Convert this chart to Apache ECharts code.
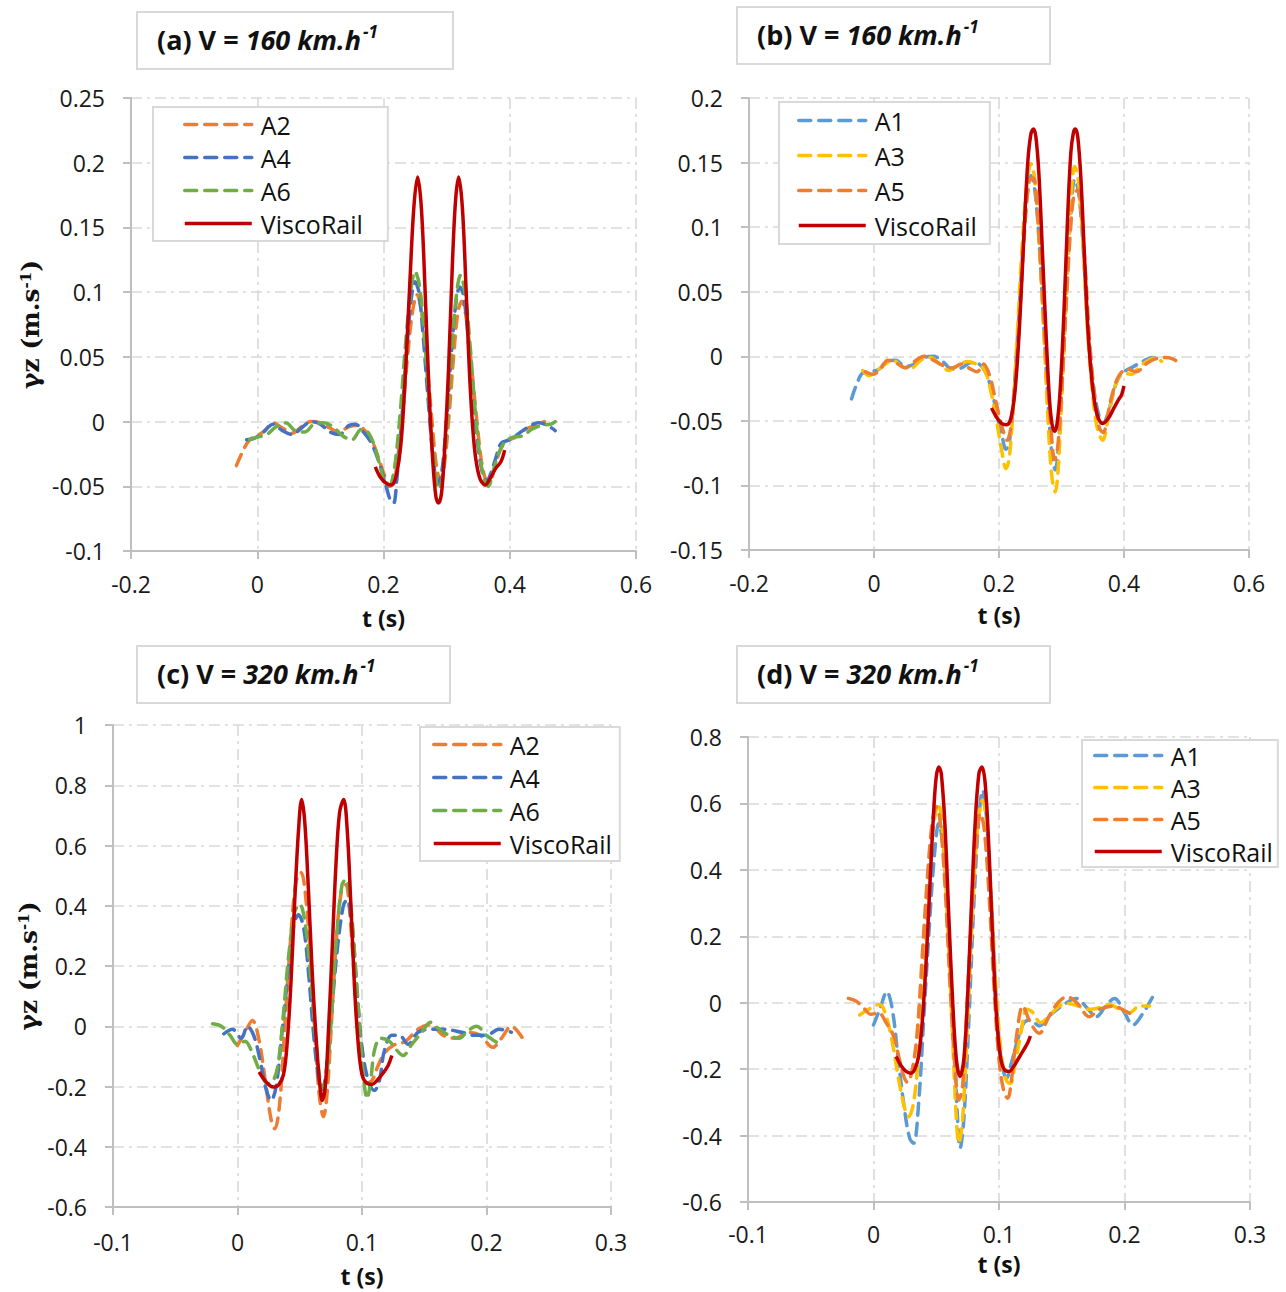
<!DOCTYPE html>
<html>
<head>
<meta charset="utf-8">
<script src="https://cdn.jsdelivr.net/npm/echarts@6/dist/echarts.min.js"></script>
<style>
html,body{margin:0;padding:0;background:#fff;}
#chart{width:1286px;height:1292px;}
</style>
</head>
<body>
<div id="chart"></div>
<script>
// ---------- tick values ----------
const xTicksAB = [-0.2, 0, 0.2, 0.4, 0.6];
const xTicksCD = [-0.1, 0, 0.1, 0.2, 0.3];
const yTicksA = [-0.1, -0.05, 0, 0.05, 0.1, 0.15, 0.2, 0.25];
const yTicksB = [-0.15, -0.1, -0.05, 0, 0.05, 0.1, 0.15, 0.2];
const yTicksC = [-0.6, -0.4, -0.2, 0, 0.2, 0.4, 0.6, 0.8, 1];
const yTicksD = [-0.6, -0.4, -0.2, 0, 0.2, 0.4, 0.6, 0.8];

const panelTitles = [
  ['(a) V = ', '160 km.h', '-1'],
  ['(b) V = ', '160 km.h', '-1'],
  ['(c) V = ', '320 km.h', '-1'],
  ['(d) V = ', '320 km.h', '-1']
];
const xName = 't (s)';
const yName = ['γz (m.s', '-1', ')'];

// ---------- panel (a) ----------
const aA2 = [[-0.033,-0.034],[-0.022,-0.022],[-0.012,-0.014],[0.000,-0.011],[0.012,-0.007],[0.025,-0.001],[0.040,-0.005],[0.055,-0.009],[0.070,-0.004],[0.085,0.000],[0.100,-0.001],[0.115,-0.005],[0.130,-0.008],[0.145,-0.004],[0.160,-0.003],[0.172,-0.008],[0.182,-0.015],[0.192,-0.028],[0.202,-0.042],[0.210,-0.050],[0.216,-0.048],[0.222,-0.030],[0.230,0.005],[0.238,0.050],[0.246,0.085],[0.253,0.098],[0.260,0.085],[0.268,0.050],[0.276,0.005],[0.284,-0.035],[0.290,-0.045],[0.296,-0.035],[0.303,0.000],[0.311,0.050],[0.318,0.085],[0.324,0.093],[0.331,0.080],[0.339,0.045],[0.347,0.005],[0.355,-0.030],[0.362,-0.045],[0.368,-0.047],[0.376,-0.035],[0.385,-0.022],[0.395,-0.015],[0.410,-0.012],[0.425,-0.006],[0.440,-0.003],[0.455,0.000]];
const aA4 = [[-0.017,-0.014],[-0.005,-0.013],[0.010,-0.008],[0.025,-0.002],[0.040,-0.007],[0.055,-0.010],[0.070,-0.005],[0.085,0.000],[0.100,-0.002],[0.115,-0.008],[0.130,-0.010],[0.145,-0.003],[0.155,-0.002],[0.168,-0.008],[0.180,-0.016],[0.192,-0.030],[0.203,-0.048],[0.211,-0.061],[0.216,-0.063],[0.221,-0.045],[0.228,-0.005],[0.236,0.050],[0.244,0.095],[0.250,0.108],[0.256,0.100],[0.263,0.065],[0.271,0.015],[0.279,-0.030],[0.286,-0.048],[0.292,-0.040],[0.299,-0.005],[0.307,0.050],[0.315,0.093],[0.321,0.104],[0.327,0.097],[0.334,0.065],[0.342,0.020],[0.350,-0.020],[0.357,-0.040],[0.363,-0.046],[0.370,-0.040],[0.378,-0.028],[0.386,-0.017],[0.400,-0.014],[0.415,-0.009],[0.430,-0.004],[0.445,-0.001],[0.460,-0.003],[0.472,-0.007]];
const aA6 = [[-0.012,-0.014],[0.000,-0.012],[0.015,-0.010],[0.030,-0.004],[0.045,-0.001],[0.060,-0.007],[0.075,-0.008],[0.090,-0.002],[0.105,-0.001],[0.120,-0.004],[0.135,-0.011],[0.150,-0.014],[0.165,-0.006],[0.175,-0.008],[0.185,-0.018],[0.195,-0.035],[0.205,-0.050],[0.212,-0.048],[0.219,-0.030],[0.227,0.010],[0.235,0.060],[0.243,0.100],[0.250,0.116],[0.257,0.105],[0.265,0.065],[0.273,0.010],[0.281,-0.035],[0.287,-0.052],[0.293,-0.045],[0.300,-0.005],[0.308,0.055],[0.316,0.100],[0.322,0.113],[0.329,0.100],[0.337,0.060],[0.345,0.010],[0.353,-0.028],[0.360,-0.045],[0.366,-0.050],[0.373,-0.040],[0.382,-0.025],[0.392,-0.016],[0.405,-0.012],[0.420,-0.011],[0.435,-0.006],[0.450,-0.003],[0.465,-0.002],[0.472,0.000]];
const aVisco = [[0.187,-0.035],[0.195,-0.043],[0.205,-0.048],[0.212,-0.049],[0.220,-0.042],[0.228,-0.015],[0.235,0.040],[0.242,0.110],[0.248,0.165],[0.254,0.189],[0.260,0.165],[0.266,0.100],[0.272,0.025],[0.278,-0.030],[0.283,-0.058],[0.287,-0.063],[0.292,-0.055],[0.297,-0.020],[0.303,0.040],[0.309,0.120],[0.314,0.170],[0.319,0.189],[0.325,0.165],[0.331,0.100],[0.337,0.030],[0.344,-0.020],[0.352,-0.043],[0.361,-0.049],[0.370,-0.043],[0.378,-0.036],[0.386,-0.031],[0.392,-0.022]];

// ---------- panel (b) ----------
const bA1 = [[-0.036,-0.033],[-0.028,-0.022],[-0.018,-0.013],[-0.005,-0.012],[0.008,-0.010],[0.020,-0.004],[0.035,-0.003],[0.050,-0.008],[0.065,-0.006],[0.080,-0.001],[0.095,0.000],[0.110,-0.004],[0.125,-0.010],[0.140,-0.009],[0.155,-0.005],[0.168,-0.006],[0.180,-0.014],[0.190,-0.030],[0.198,-0.048],[0.205,-0.062],[0.211,-0.072],[0.216,-0.068],[0.222,-0.040],[0.229,0.010],[0.237,0.075],[0.245,0.125],[0.251,0.140],[0.257,0.130],[0.264,0.090],[0.272,0.020],[0.279,-0.040],[0.285,-0.078],[0.290,-0.088],[0.295,-0.070],[0.301,-0.020],[0.308,0.050],[0.315,0.110],[0.321,0.137],[0.327,0.128],[0.334,0.090],[0.341,0.030],[0.349,-0.015],[0.357,-0.040],[0.366,-0.052],[0.374,-0.045],[0.382,-0.030],[0.390,-0.018],[0.400,-0.012],[0.415,-0.008],[0.430,-0.004],[0.445,-0.001],[0.456,-0.002]];
const bA3 = [[-0.018,-0.011],[-0.008,-0.015],[0.005,-0.011],[0.018,-0.006],[0.030,-0.003],[0.045,-0.008],[0.060,-0.009],[0.075,-0.003],[0.090,-0.001],[0.105,-0.006],[0.120,-0.011],[0.135,-0.007],[0.150,-0.004],[0.163,-0.006],[0.176,-0.010],[0.186,-0.025],[0.196,-0.050],[0.205,-0.075],[0.211,-0.087],[0.216,-0.080],[0.222,-0.045],[0.229,0.015],[0.237,0.085],[0.245,0.135],[0.251,0.149],[0.257,0.138],[0.264,0.090],[0.272,0.015],[0.279,-0.055],[0.285,-0.095],[0.290,-0.105],[0.295,-0.085],[0.301,-0.025],[0.308,0.050],[0.315,0.120],[0.321,0.147],[0.327,0.136],[0.334,0.090],[0.341,0.025],[0.349,-0.025],[0.357,-0.055],[0.366,-0.065],[0.374,-0.050],[0.382,-0.030],[0.390,-0.018],[0.400,-0.013],[0.412,-0.014],[0.425,-0.008],[0.440,-0.003],[0.452,-0.001],[0.460,-0.004]];
const bA5 = [[-0.014,-0.012],[-0.002,-0.014],[0.010,-0.010],[0.022,-0.003],[0.035,-0.005],[0.050,-0.009],[0.065,-0.004],[0.080,0.000],[0.095,-0.003],[0.110,-0.007],[0.125,-0.009],[0.140,-0.006],[0.155,-0.010],[0.165,-0.012],[0.175,-0.006],[0.185,-0.015],[0.195,-0.035],[0.205,-0.055],[0.213,-0.065],[0.219,-0.055],[0.226,-0.020],[0.234,0.040],[0.242,0.105],[0.249,0.137],[0.255,0.138],[0.261,0.115],[0.268,0.060],[0.276,-0.005],[0.283,-0.055],[0.289,-0.080],[0.294,-0.070],[0.300,-0.030],[0.307,0.035],[0.314,0.095],[0.320,0.125],[0.326,0.129],[0.332,0.110],[0.339,0.060],[0.346,0.005],[0.354,-0.035],[0.361,-0.056],[0.367,-0.059],[0.374,-0.045],[0.382,-0.028],[0.392,-0.015],[0.405,-0.010],[0.420,-0.012],[0.435,-0.006],[0.450,-0.002],[0.465,-0.001],[0.478,-0.002],[0.490,-0.006]];
const bVisco = [[0.188,-0.040],[0.196,-0.047],[0.204,-0.052],[0.212,-0.053],[0.219,-0.048],[0.226,-0.025],[0.233,0.025],[0.240,0.095],[0.246,0.150],[0.251,0.172],[0.255,0.176],[0.259,0.170],[0.264,0.140],[0.270,0.075],[0.276,0.010],[0.281,-0.035],[0.285,-0.053],[0.289,-0.058],[0.293,-0.052],[0.298,-0.025],[0.304,0.035],[0.310,0.110],[0.315,0.158],[0.319,0.173],[0.322,0.176],[0.326,0.170],[0.331,0.138],[0.337,0.075],[0.343,0.015],[0.350,-0.025],[0.357,-0.045],[0.366,-0.052],[0.375,-0.048],[0.384,-0.040],[0.392,-0.033],[0.396,-0.030],[0.400,-0.023]];

// ---------- panel (c) ----------
const cA2 = [[0.000,-0.064],[0.006,-0.020],[0.012,0.019],[0.017,-0.040],[0.022,-0.170],[0.027,-0.310],[0.030,-0.340],[0.034,-0.250],[0.038,0.000],[0.042,0.250],[0.047,0.480],[0.051,0.510],[0.055,0.420],[0.059,0.200],[0.063,-0.080],[0.066,-0.240],[0.069,-0.300],[0.072,-0.220],[0.076,0.050],[0.080,0.320],[0.084,0.460],[0.087,0.470],[0.091,0.330],[0.095,0.080],[0.099,-0.120],[0.103,-0.190],[0.108,-0.180],[0.113,-0.130],[0.118,-0.090],[0.125,-0.064],[0.135,-0.050],[0.145,-0.010],[0.155,0.005],[0.165,-0.030],[0.175,-0.040],[0.185,-0.020],[0.195,-0.030],[0.205,-0.070],[0.212,-0.040],[0.220,0.000],[0.229,-0.040]];
const cA4 = [[-0.011,-0.025],[-0.004,-0.010],[0.003,-0.040],[0.008,0.000],[0.013,-0.030],[0.018,-0.110],[0.023,-0.210],[0.027,-0.246],[0.031,-0.200],[0.035,-0.050],[0.040,0.150],[0.045,0.330],[0.049,0.370],[0.053,0.330],[0.057,0.180],[0.061,-0.020],[0.065,-0.170],[0.068,-0.210],[0.071,-0.160],[0.075,0.020],[0.080,0.250],[0.085,0.400],[0.088,0.420],[0.092,0.330],[0.096,0.120],[0.100,-0.070],[0.105,-0.180],[0.110,-0.213],[0.114,-0.180],[0.118,-0.080],[0.124,-0.030],[0.130,-0.030],[0.137,-0.060],[0.145,-0.020],[0.155,-0.010],[0.165,-0.010],[0.180,-0.020],[0.190,-0.030],[0.200,-0.030],[0.210,-0.010],[0.220,-0.020]];
const cA6 = [[-0.020,0.008],[-0.013,0.000],[-0.006,-0.030],[0.000,-0.060],[0.006,-0.050],[0.012,-0.090],[0.018,-0.150],[0.024,-0.190],[0.028,-0.185],[0.032,-0.140],[0.036,0.000],[0.041,0.230],[0.046,0.380],[0.050,0.405],[0.054,0.350],[0.058,0.200],[0.062,0.000],[0.066,-0.170],[0.069,-0.205],[0.072,-0.150],[0.076,0.070],[0.080,0.320],[0.084,0.470],[0.087,0.488],[0.091,0.400],[0.095,0.180],[0.099,-0.060],[0.102,-0.200],[0.104,-0.240],[0.107,-0.180],[0.110,-0.080],[0.115,-0.040],[0.122,-0.050],[0.128,-0.080],[0.133,-0.097],[0.140,-0.060],[0.148,-0.020],[0.155,0.013],[0.162,-0.010],[0.170,-0.030],[0.178,-0.040],[0.185,-0.015],[0.192,0.000],[0.200,-0.030],[0.208,-0.053]];
const cVisco = [[0.0173,-0.152],[0.022,-0.180],[0.026,-0.197],[0.029,-0.202],[0.033,-0.195],[0.037,-0.160],[0.040,-0.050],[0.043,0.150],[0.046,0.420],[0.049,0.650],[0.0515,0.753],[0.054,0.680],[0.057,0.450],[0.060,0.180],[0.063,-0.030],[0.066,-0.190],[0.068,-0.246],[0.0705,-0.200],[0.073,-0.020],[0.076,0.250],[0.079,0.530],[0.082,0.710],[0.0853,0.753],[0.088,0.660],[0.091,0.410],[0.094,0.130],[0.097,-0.060],[0.100,-0.160],[0.104,-0.190],[0.108,-0.193],[0.112,-0.180],[0.117,-0.155],[0.121,-0.130],[0.124,-0.097]];

// ---------- panel (d) ----------
const dA1 = [[0.000,-0.067],[0.005,-0.020],[0.0106,0.033],[0.015,-0.020],[0.020,-0.180],[0.025,-0.330],[0.029,-0.410],[0.032,-0.423],[0.036,-0.300],[0.040,-0.050],[0.044,0.200],[0.048,0.420],[0.052,0.540],[0.056,0.450],[0.060,0.200],[0.064,-0.100],[0.067,-0.350],[0.069,-0.438],[0.072,-0.350],[0.076,-0.050],[0.080,0.300],[0.084,0.560],[0.087,0.640],[0.090,0.560],[0.094,0.300],[0.098,0.000],[0.102,-0.180],[0.106,-0.227],[0.110,-0.180],[0.115,-0.110],[0.120,-0.060],[0.125,-0.052],[0.132,-0.070],[0.140,-0.040],[0.150,-0.010],[0.1616,0.013],[0.170,-0.015],[0.1775,-0.042],[0.185,-0.010],[0.192,0.013],[0.200,-0.030],[0.2066,-0.067],[0.215,-0.030],[0.224,0.028]];
const dA3 = [[-0.011,-0.037],[-0.004,-0.020],[0.005,-0.005],[0.010,-0.040],[0.015,-0.120],[0.020,-0.230],[0.025,-0.320],[0.028,-0.343],[0.032,-0.300],[0.036,-0.150],[0.040,0.100],[0.044,0.350],[0.048,0.540],[0.0517,0.600],[0.055,0.520],[0.059,0.250],[0.063,-0.100],[0.066,-0.350],[0.068,-0.423],[0.071,-0.350],[0.075,-0.050],[0.079,0.280],[0.083,0.530],[0.0869,0.610],[0.090,0.540],[0.094,0.300],[0.098,0.020],[0.102,-0.160],[0.106,-0.235],[0.109,-0.243],[0.113,-0.180],[0.118,-0.080],[0.122,-0.020],[0.127,-0.030],[0.133,-0.060],[0.140,-0.040],[0.148,-0.010],[0.155,-0.002],[0.163,-0.010],[0.172,-0.020],[0.180,-0.015],[0.188,-0.005],[0.196,-0.020],[0.204,-0.030],[0.212,-0.010],[0.220,-0.010]];
const dA5 = [[-0.020,0.013],[-0.014,0.005],[-0.008,-0.015],[-0.002,-0.035],[0.004,-0.030],[0.010,-0.060],[0.016,-0.100],[0.020,-0.160],[0.024,-0.220],[0.027,-0.240],[0.031,-0.200],[0.035,-0.080],[0.039,0.150],[0.043,0.380],[0.047,0.550],[0.050,0.590],[0.053,0.550],[0.057,0.350],[0.061,0.050],[0.065,-0.200],[0.068,-0.293],[0.071,-0.250],[0.074,-0.050],[0.078,0.250],[0.082,0.480],[0.085,0.570],[0.088,0.530],[0.092,0.330],[0.096,0.050],[0.100,-0.170],[0.104,-0.270],[0.107,-0.288],[0.110,-0.230],[0.114,-0.100],[0.119,-0.010],[0.125,-0.060],[0.132,-0.092],[0.140,-0.040],[0.147,0.000],[0.154,0.018],[0.162,0.000],[0.172,-0.042],[0.180,-0.020],[0.192,-0.010],[0.198,-0.020],[0.204,-0.032]];
const dVisco = [[0.018,-0.162],[0.022,-0.190],[0.026,-0.207],[0.0297,-0.212],[0.033,-0.200],[0.036,-0.160],[0.039,-0.050],[0.042,0.130],[0.045,0.360],[0.048,0.580],[0.050,0.680],[0.052,0.710],[0.054,0.690],[0.057,0.530],[0.060,0.260],[0.063,0.010],[0.066,-0.170],[0.0689,-0.222],[0.072,-0.170],[0.075,0.020],[0.078,0.290],[0.081,0.540],[0.084,0.690],[0.0864,0.710],[0.089,0.660],[0.092,0.460],[0.095,0.190],[0.098,-0.040],[0.101,-0.160],[0.104,-0.200],[0.108,-0.207],[0.112,-0.190],[0.116,-0.165],[0.120,-0.140],[0.123,-0.120],[0.125,-0.100]];

// ---------- styling ----------
const COLORS = {A1:'#5B9BD5', A2:'#ED7D31', A3:'#FFC000', A4:'#4472C4', A5:'#ED7D31', A6:'#70AD47', ViscoRail:'#C00000'};
const FONT = 'Open Sans';
const GRID_COLOR = '#d9d9d9';
const AXIS_COLOR = '#bfbfbf';

const grids = [
  {left:131, top:98, width:505, height:453},
  {left:749, top:98, width:500, height:452},
  {left:113, top:725, width:498, height:482},
  {left:748, top:737, width:502, height:465}
];

function fmt(v){ return String(parseFloat(v.toFixed(3))); }
function step(t){ return parseFloat((t[1]-t[0]).toFixed(4)); }

function makeX(gi, ticks, nameGap, margin){
  return {
    gridIndex: gi, type:'value', min: ticks[0], max: ticks[ticks.length-1], interval: step(ticks),
    axisLine:{show:true, onZero:false, lineStyle:{color:AXIS_COLOR, width:2}},
    axisTick:{show:true, length:8, lineStyle:{color:AXIS_COLOR, width:2}},
    axisLabel:{margin:margin, fontSize:23, fontFamily:FONT, color:'#1a1a1a', formatter: fmt},
    splitLine:{show:true, lineStyle:{color:GRID_COLOR, width:1.6, type:[11,5,3,5]}},
    name: xName, nameLocation:'middle', nameGap: nameGap,
    nameTextStyle:{fontSize:23, fontWeight:'bold', fontFamily:FONT, color:'#111'}
  };
}
function makeY(gi, ticks, withName, nameGap){
  const ax = {
    gridIndex: gi, type:'value', min: ticks[0], max: ticks[ticks.length-1], interval: step(ticks),
    axisLine:{show:true, onZero:false, lineStyle:{color:AXIS_COLOR, width:2}},
    axisTick:{show:true, length:8, lineStyle:{color:AXIS_COLOR, width:2}},
    axisLabel:{margin:26, fontSize:23, fontFamily:FONT, color:'#1a1a1a', formatter: fmt},
    splitLine:{show:true, lineStyle:{color:GRID_COLOR, width:1.6, type:[11,5,3,5]}}
  };
  if (withName) {
    ax.name = '{n|' + yName[0] + '}{s|' + yName[1] + '}{n|' + yName[2] + '}';
    ax.nameLocation = 'middle';
    ax.nameGap = nameGap;
    ax.nameTextStyle = {
      rich:{
        n:{fontSize:25, fontWeight:'bold', fontFamily:'DejaVu Serif', color:'#111'},
        s:{fontSize:15, fontWeight:'bold', fontFamily:'DejaVu Serif', color:'#111', verticalAlign:'top'}
      }
    };
  }
  return ax;
}

function mkSeries(name, data, gi){
  const solid = name === 'ViscoRail';
  return {
    name: name, type:'line', xAxisIndex: gi, yAxisIndex: gi, data: data,
    smooth: 0.35, symbol:'none', showSymbol:false, animation:false,
    z: solid ? 5 : 3,
    lineStyle:{color: COLORS[name], width: 3.5, type: solid ? 'solid' : [12, 8], cap: solid ? 'butt' : 'round'},
    itemStyle:{color: COLORS[name]}
  };
}

const series = [
  mkSeries('A2', aA2, 0), mkSeries('A4', aA4, 0), mkSeries('A6', aA6, 0), mkSeries('ViscoRail', aVisco, 0),
  mkSeries('A1', bA1, 1), mkSeries('A3', bA3, 1), mkSeries('A5', bA5, 1), mkSeries('ViscoRail', bVisco, 1),
  mkSeries('A2', cA2, 2), mkSeries('A4', cA4, 2), mkSeries('A6', cA6, 2), mkSeries('ViscoRail', cVisco, 2),
  mkSeries('A1', dA1, 3), mkSeries('A3', dA3, 3), mkSeries('A5', dA5, 3), mkSeries('ViscoRail', dVisco, 3)
];

function mkLegend(left, top, names, gap, padding){
  return {
    left: left, top: top, orient:'vertical', data: names,
    itemWidth: 67, itemHeight: 14, itemGap: gap, padding: padding,
    backgroundColor:'#fff', borderColor: GRID_COLOR, borderWidth: 2, borderRadius: 0,
    selectedMode: false,
    itemStyle:{color:'rgba(0,0,0,0)', borderWidth:0, opacity:0},
    lineStyle:{width:3.5},
    textStyle:{fontSize:25, fontFamily:FONT, color:'#111', padding:[0,0,0,4]}
  };
}

const titleBoxes = [
  {x:137, y:12, w:316, h:57},
  {x:737, y:7, w:313, h:57},
  {x:137, y:646, w:313, h:57},
  {x:737, y:646, w:313, h:57}
];
const graphic = [];
titleBoxes.forEach((b, i) => {
  graphic.push({type:'rect', shape:{x:b.x, y:b.y, width:b.w, height:b.h}, style:{fill:'#fff', stroke:GRID_COLOR, lineWidth:2}, z:10});
  const t = panelTitles[i];
  graphic.push({type:'text', x:b.x+20, y:b.y+b.h/2-1, z:11, style:{
    text:'{b|' + t[0] + '}{i|' + t[1] + '}{s|' + t[2] + '}',
    verticalAlign:'middle', align:'left',
    rich:{
      b:{fontSize:27, fontWeight:'bold', fontFamily:FONT, fill:'#111', lineHeight:34},
      i:{fontSize:27, fontWeight:'bold', fontStyle:'italic', fontFamily:FONT, fill:'#111', lineHeight:34},
      s:{fontSize:17, fontWeight:'bold', fontStyle:'italic', fontFamily:FONT, fill:'#111', verticalAlign:'top', lineHeight:20, padding:[0,0,0,2]}
    }
  }});
});

const option = {
  backgroundColor:'#fff',
  animation:false,
  grid: grids,
  xAxis:[makeX(0, xTicksAB, 55, 21), makeX(1, xTicksAB, 53, 21), makeX(2, xTicksCD, 57, 23), makeX(3, xTicksCD, 50, 20)],
  yAxis:[makeY(0, yTicksA, true, 88), makeY(1, yTicksB, false), makeY(2, yTicksC, true, 72), makeY(3, yTicksD, false)],
  legend:[
    mkLegend(153, 107, ['A2','A4','A6','ViscoRail'], 8, [5,25,5,30]),
    mkLegend(779, 102, ['A1','A3','A5','ViscoRail'], 10, [6,13,6,18]),
    mkLegend(420, 727, ['A2','A4','A6','ViscoRail'], 8, [5,8,5,12]),
    mkLegend(1082, 740, ['A1','A3','A5','ViscoRail'], 7, [3,5,3,11])
  ],
  graphic: graphic,
  series: series
};

const chart = echarts.init(document.getElementById('chart'), null, {renderer:'svg'});
chart.setOption(option);
</script>
</body>
</html>
